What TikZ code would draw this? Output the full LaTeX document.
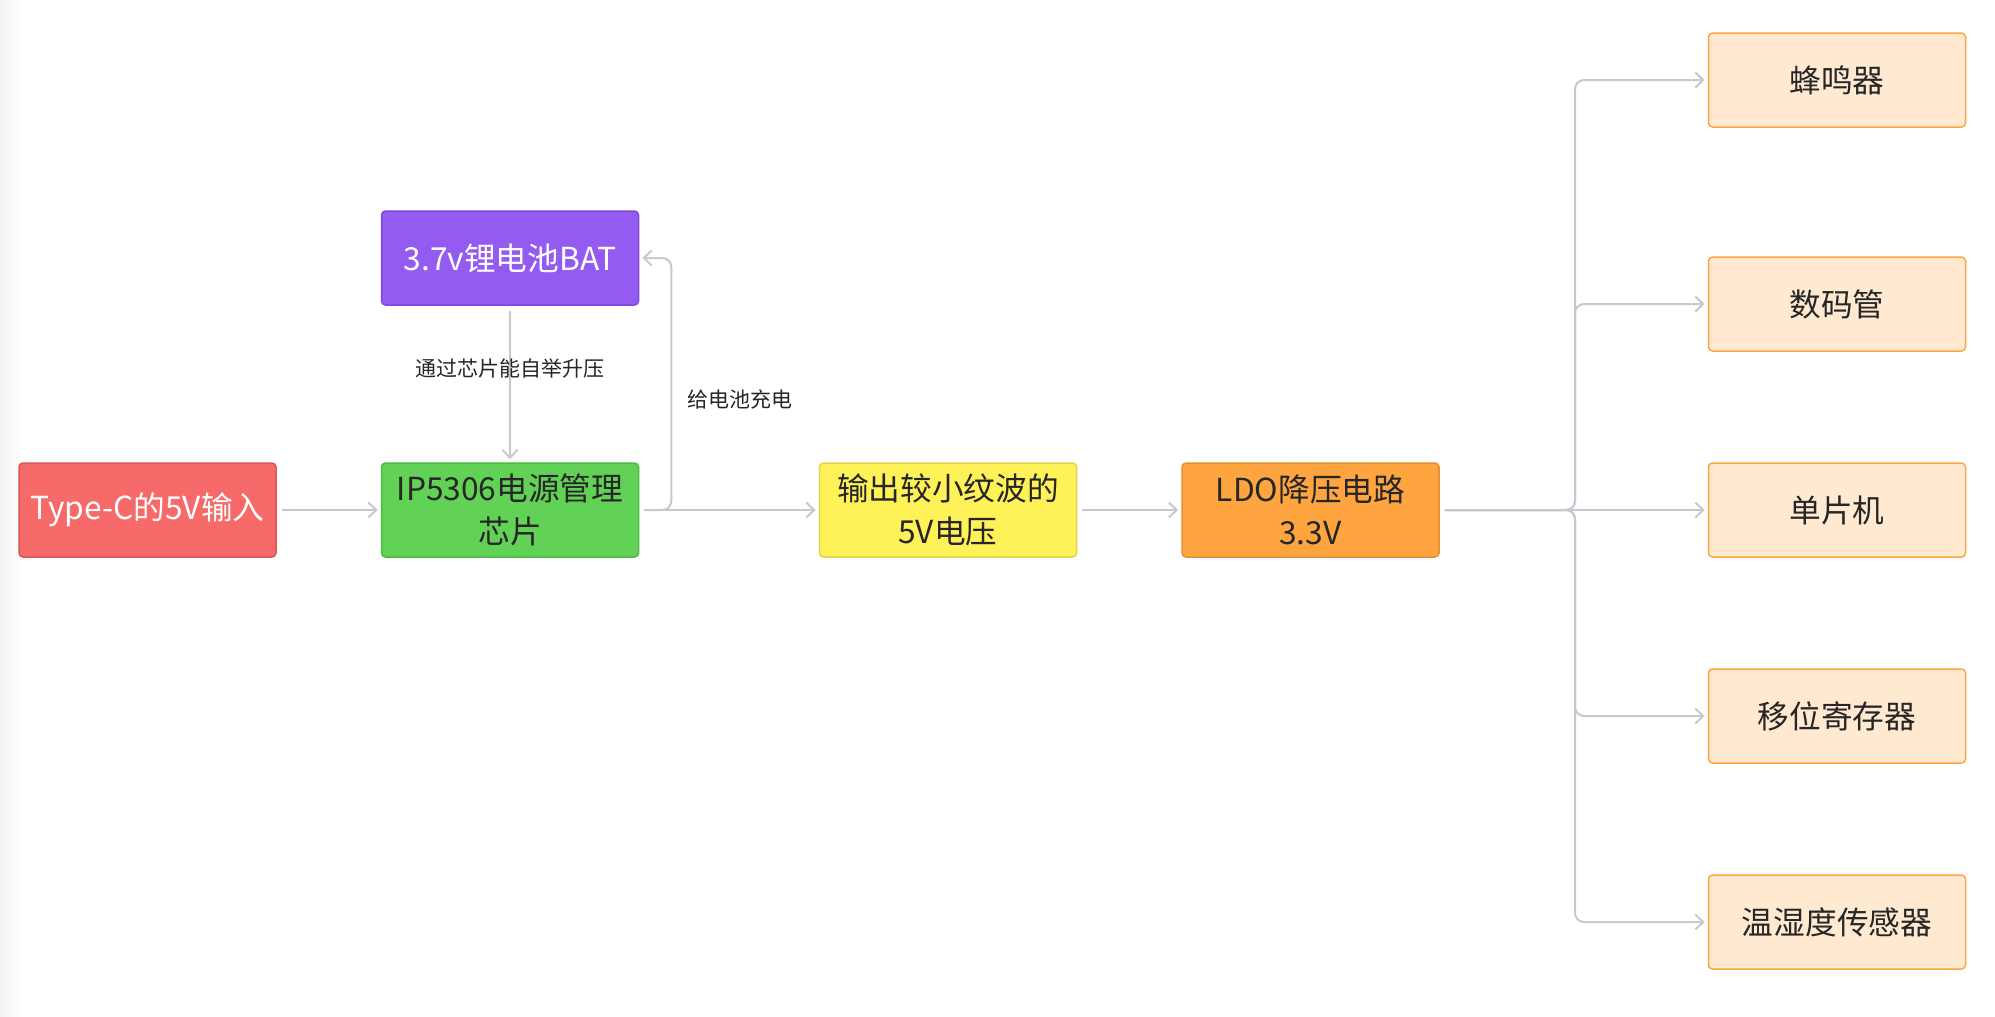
\documentclass[tikz,border=0pt]{standalone}
\RequirePackage{fontspec}
\setmainfont{Noto Sans CJK SC}
\usetikzlibrary{arrows.meta}
\definecolor{linegray}{HTML}{C6C9CF}
\definecolor{textdark}{HTML}{262626}
\definecolor{redfill}{HTML}{F76A6A}
\definecolor{reddraw}{HTML}{DD5656}
\definecolor{greenfill}{HTML}{62D256}
\definecolor{greendraw}{HTML}{4DB842}
\definecolor{purplefill}{HTML}{945BF3}
\definecolor{purpledraw}{HTML}{7E47DB}
\definecolor{yellowfill}{HTML}{FFF158}
\definecolor{yellowdraw}{HTML}{E3D24A}
\definecolor{orangefill}{HTML}{FFA53F}
\definecolor{orangedraw}{HTML}{E58F32}
\definecolor{peachfill}{HTML}{FFE9D1}
\tikzset{
  box/.style={draw, rounded corners=4pt, line width=1.5pt, minimum width=257pt,
    minimum height=94pt, inner sep=0pt, align=center, text=textdark,
    font=\fontsize{31.7}{43}\selectfont},
  leaf/.style={box, fill=peachfill, draw=orangefill},
  conn/.style={draw=linegray, line width=2pt, -{Straight Barb[length=8pt,width=15pt]},
    shorten <=5pt, shorten >=3pt},
  lbl/.style={text=textdark, font=\fontsize{21}{24}\selectfont}
}
\begin{document}
\begin{tikzpicture}[x=1pt,y=-1pt]
\useasboundingbox (0,0) rectangle (1995,1017);
\shade[left color=black!5, right color=white] (0,0) rectangle (24,1017);

\node[box, fill=redfill, draw=reddraw, text=white] (typec) at (147.5,510) {Type-C的5V输入};
\node[box, fill=greenfill, draw=greendraw] (chip) at (510,510) {IP5306电源管理\\芯片};
\node[box, fill=purplefill, draw=purpledraw, text=white] (bat) at (510,258) {3.7v锂电池BAT};
\node[box, fill=yellowfill, draw=yellowdraw] (ripple) at (948,510) {输出较小纹波的\\5V电压};
\node[box, fill=orangefill, draw=orangedraw] (ldo) at (1310.5,510) {LDO降压电路\\3.3V};

\node[leaf] (buzzer) at (1837,80) {蜂鸣器};
\node[leaf] (seg) at (1837,304) {数码管};
\node[leaf] (mcu) at (1837,510) {单片机};
\node[leaf] (shiftreg) at (1837,716) {移位寄存器};
\node[leaf] (sensor) at (1837,922) {温湿度传感器};

\coordinate (fork) at (1575,510);

\draw[conn] (typec) -- (chip);
\draw[conn] (bat) -- (chip) node[lbl, pos=0.4] {通过芯片能自举升压};
\draw[conn, rounded corners=9pt] (chip.east) -- ++(32,0) |- (bat.east)
  node[lbl, pos=0.22, right=12pt] {给电池充电};
\draw[conn] (chip) -- (ripple);
\draw[conn] (ripple) -- (ldo);
\draw[conn] (ldo) -- (mcu);
\foreach \n in {buzzer,seg,shiftreg,sensor}
  \draw[conn, rounded corners=9pt] (ldo.east) -- (fork) |- (\n.west);
\end{tikzpicture}
\end{document}
